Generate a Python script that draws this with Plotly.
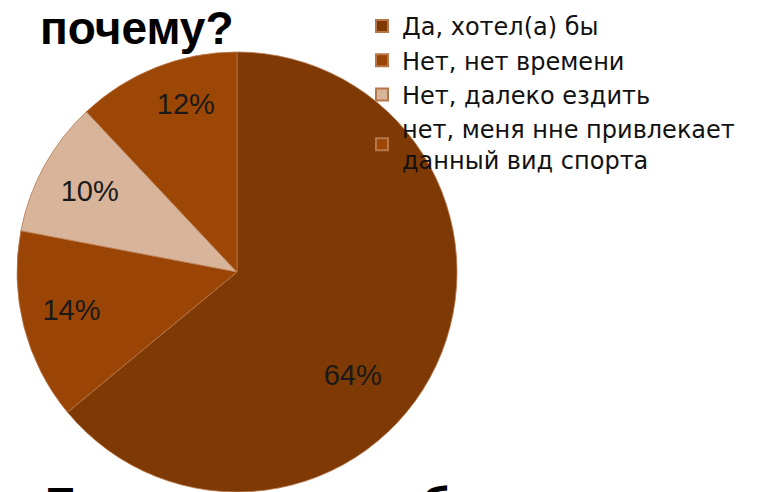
import plotly.graph_objects as go

labels = ["Да, хотел(а) бы", "Нет, нет времени", "Нет, далеко ездить",
          "нет, меня нне привлекает<br>данный вид спорта"]
values = [64, 14, 10, 12]
colors = ["#7E3904", "#9A4405", "#D8B49B", "#9D4707"]
title_text = "почему?"
bottom_text = "Если вы хотели бы, но не пошли бы по"


def inv(s):
    # invisible padding used only to nudge where the percentage label sits
    return '<span style="color:rgba(0,0,0,0)">' + s + '</span>'


P = "%{percent:.0%}"
label_templates = [
    inv("0") + "<br>" + inv("0") + "<br>" + inv("0") + "<br>" + inv("00") + P,
    P + inv("00"),
    P,
    inv("0") + P + "<br>" + inv("0"),
]

W, H = 761, 492
FONT = "Liberation Sans, Arial, sans-serif"
fig = go.Figure(go.Pie(
    labels=labels, values=values, sort=False, direction="clockwise", rotation=0,
    marker=dict(colors=colors, line=dict(color="#B7774A", width=0.8)),
    texttemplate=label_templates, textposition="inside", insidetextorientation="horizontal",
    textfont=dict(family=FONT, size=29, color="#1A1A1A"),
    domain=dict(x=[17 / W, 457 / W], y=[0, 440 / H]),
    hoverinfo="label+percent",
))
fig.update_layout(
    width=W, height=H, margin=dict(l=0, r=0, t=0, b=0),
    paper_bgcolor="white", plot_bgcolor="white",
    font=dict(family=FONT, color="#111111"),
    legend=dict(x=362 / W, y=1.0 - 4 / H, xanchor="left", yanchor="top",
                font=dict(size=24, color="#111111", family="DejaVu Sans, sans-serif"),
                bgcolor="rgba(0,0,0,0)", tracegroupgap=0, itemsizing="constant"),
    annotations=[
        dict(text="<b>" + title_text + "</b>", x=38 / W, y=1.0, xref="paper", yref="paper",
             xanchor="left", yanchor="top", showarrow=False,
             font=dict(size=46, color="#000000", family=FONT)),
        dict(text="<b>" + bottom_text + "</b>", x=43 / W, y=(H - 476) / H, xref="paper", yref="paper",
             xanchor="left", yanchor="top", showarrow=False,
             font=dict(size=46, color="#000000", family=FONT)),
    ],
)
fig.write_html("out.html", config={"displayModeBar": False},
               post_script="document.body.style.margin='0px';")
